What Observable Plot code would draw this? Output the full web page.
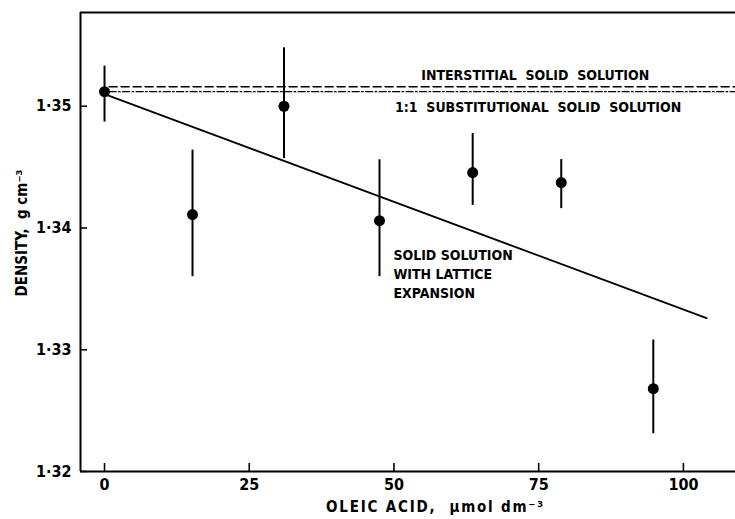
<!DOCTYPE html>
<html>
<head>
<meta charset="utf-8">
<script src="https://cdn.jsdelivr.net/npm/d3@7"></script>
<script src="https://cdn.jsdelivr.net/npm/@observablehq/plot@0.6"></script>
<style>
  body { margin: 0; background: #fff; }
  #chart svg { display: block; }
</style>
</head>
<body>
<div id="chart"></div>
<script>
// ---- data ----
const oleic   = [0, 15.2, 31.0, 47.5, 63.6, 78.9, 94.8];
const density = [1.3512, 1.3411, 1.3500, 1.3406, 1.34455, 1.34373, 1.3268];
const errLow  = [1.3487, 1.3360, 1.3457, 1.3360, 1.34186, 1.34159, 1.3231];
const errHigh = [1.3533, 1.3464, 1.3548, 1.3456, 1.34776, 1.34562, 1.3308];

// lattice expansion fit line (end points)
const fitX = [0, 104];
const fitY = [1.3510, 1.3326];

// reference levels
const interstitialY = 1.3516;
const substitutionalY = 1.3512;
const refX = [0.8, 109];

const xTicks = [0, 25, 50, 75, 100];
const xTickLabels = ["0", "25", "50", "75", "100"];
const yTicks = [1.32, 1.33, 1.34, 1.35];
const yTickLabels = ["1·32", "1·33", "1·34", "1·35"];

const xTitle = "OLEIC ACID,  μmol dm⁻³";
const yTitle = "DENSITY,  g cm⁻³";
const labelInterstitial = "INTERSTITIAL  SOLID  SOLUTION";
const labelSubstitutional = "1:1  SUBSTITUTIONAL  SOLID  SOLUTION";
const labelLattice = "SOLID SOLUTION\nWITH LATTICE\nEXPANSION";

// ---- build ----
const points = oleic.map((x, i) => ({x, y: density[i], lo: errLow[i], hi: errHigh[i]}));
const fit = fitX.map((x, i) => ({x, y: fitY[i]}));
const interstitial = refX.map(x => ({x, y: interstitialY}));
const substitutional = refX.map(x => ({x, y: substitutionalY}));

const xDomain = [-4.15, 109];
const yDomain = [1.32, 1.3577];
const W = 735, H = 519, mL = 80, mR = 0, mT = 12, mB = 48;
const font = "'DejaVu Sans Condensed', 'DejaVu Sans', sans-serif";

const chart = Plot.plot({
  width: W, height: H,
  marginLeft: mL, marginRight: mR, marginTop: mT, marginBottom: mB,
  style: {fontFamily: font, color: "#000", background: "#fff"},
  x: {domain: xDomain, label: null},
  y: {domain: yDomain, label: null},
  marks: [
    // frame lines
    Plot.ruleX([xDomain[0]], {stroke: "#000", strokeWidth: 2}),
    Plot.ruleY([yDomain[0]], {stroke: "#000", strokeWidth: 2}),
    Plot.ruleY([yDomain[1]], {stroke: "#000", strokeWidth: 2}),
    // inward ticks
    Plot.ruleX(xTicks, {stroke: "#000", strokeWidth: 1.6, insetTop: H - mT - mB - 8}),
    Plot.ruleY(yTicks, {stroke: "#000", strokeWidth: 1.6, insetRight: W - mL - mR - 7}),
    // tick labels
    Plot.axisX(xTicks, {label: null, tickSize: 0, tickPadding: 7, fontSize: 16, fontWeight: "bold", tickFormat: (d, i) => xTickLabels[i], fill: "#000"}),
    Plot.axisY(yTicks, {label: null, tickSize: 0, tickPadding: 9, fontSize: 16, fontWeight: "bold", tickFormat: (d, i) => yTickLabels[i], fill: "#000"}),
    // reference lines
    Plot.line(interstitial, {x: "x", y: "y", stroke: "#000", strokeWidth: 1.6, strokeDasharray: "8,4"}),
    Plot.line(substitutional, {x: "x", y: "y", stroke: "#000", strokeWidth: 1.4, strokeDasharray: "7,2.5,1.5,2.5"}),
    // fit line
    Plot.line(fit, {x: "x", y: "y", stroke: "#000", strokeWidth: 1.8}),
    // error bars and points
    Plot.ruleX(points, {x: "x", y1: "lo", y2: "hi", stroke: "#000", strokeWidth: 2}),
    Plot.dot(points, {x: "x", y: "y", r: 5.5, fill: "#000", stroke: "none"}),
    // annotations
    Plot.text([labelInterstitial], {x: 74.4, y: interstitialY, dy: -11, text: d => d, fontSize: 14, fontWeight: "bold", textAnchor: "middle", fill: "#000"}),
    Plot.text([labelSubstitutional], {x: 74.9, y: substitutionalY, dy: 16, text: d => d, fontSize: 14, fontWeight: "bold", textAnchor: "middle", fill: "#000"}),
    Plot.text([labelLattice], {x: 49.9, y: 1.3363, text: d => d, fontSize: 14, fontWeight: "bold", textAnchor: "start", lineAnchor: "middle", lineHeight: 1.33, fill: "#000"}),
    // axis titles
    Plot.text([xTitle], {frameAnchor: "bottom", dx: 27.5, dy: 36, text: d => d, fontSize: 15, fontWeight: "bold", textAnchor: "middle", lineAnchor: "middle", fill: "#000"}),
    Plot.text([yTitle], {frameAnchor: "left", dx: -58, dy: -9, rotate: -90, text: d => d, fontSize: 15, fontWeight: "bold", textAnchor: "middle", lineAnchor: "middle", fill: "#000"})
  ]
});
// widen letter spacing of the x-axis title to match the lettering of the original
d3.select(chart).selectAll("text").filter(function() { return this.textContent === xTitle; })
  .style("letter-spacing", "1.8px");
document.getElementById("chart").appendChild(chart);
</script>
</body>
</html>
